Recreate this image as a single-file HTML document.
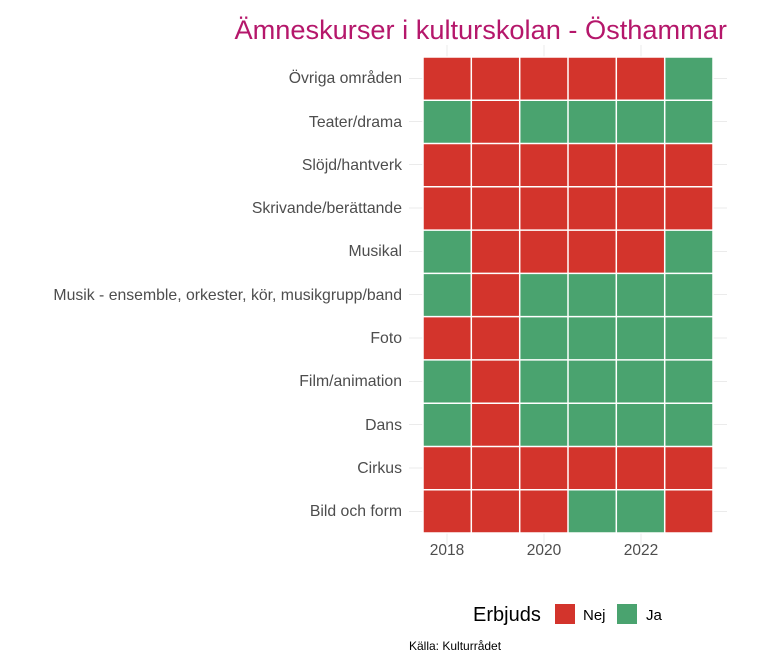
<!DOCTYPE html>
<html><head><meta charset="utf-8"><style>body{margin:0;background:#fff}svg{display:block}</style></head><body>
<svg width="768" height="672" xmlns="http://www.w3.org/2000/svg" font-family="Liberation Sans, sans-serif">
<rect width="768" height="672" fill="#fff"/>
<g stroke="#ebebeb" stroke-width="1">
<line x1="409" x2="727" y1="78.5" y2="78.5"/><line x1="409" x2="727" y1="121.5" y2="121.5"/><line x1="409" x2="727" y1="164.5" y2="164.5"/><line x1="409" x2="727" y1="208" y2="208"/><line x1="409" x2="727" y1="251.5" y2="251.5"/><line x1="409" x2="727" y1="294.5" y2="294.5"/><line x1="409" x2="727" y1="338" y2="338"/><line x1="409" x2="727" y1="381.5" y2="381.5"/><line x1="409" x2="727" y1="424.5" y2="424.5"/><line x1="409" x2="727" y1="468" y2="468"/><line x1="409" x2="727" y1="511.5" y2="511.5"/>
<line x1="447" x2="447" y1="45" y2="545"/><line x1="544" x2="544" y1="45" y2="545"/><line x1="641" x2="641" y1="45" y2="545"/>
</g>
<rect x="423" y="57" width="290" height="476" fill="#d3342c"/>
<g fill="#4aa36f">
<rect x="664.7" y="57" width="48.3" height="43.3"/>
<rect x="423" y="100.3" width="48.3" height="43.3"/>
<rect x="519.7" y="100.3" width="193.3" height="43.3"/>
<rect x="423" y="230.1" width="48.3" height="86.6"/>
<rect x="664.7" y="230.1" width="48.3" height="43.3"/>
<rect x="519.7" y="273.4" width="193.3" height="173.1"/>
<rect x="423" y="359.9" width="48.3" height="86.6"/>
<rect x="568" y="489.7" width="96.7" height="43.3"/>
</g>
<g stroke="#fff" stroke-width="1.5">
<line x1="471.3" x2="471.3" y1="57" y2="533"/><line x1="519.7" x2="519.7" y1="57" y2="533"/><line x1="568" x2="568" y1="57" y2="533"/><line x1="616.3" x2="616.3" y1="57" y2="533"/><line x1="664.7" x2="664.7" y1="57" y2="533"/>
<line x1="423" x2="713" y1="100.3" y2="100.3"/><line x1="423" x2="713" y1="143.5" y2="143.5"/><line x1="423" x2="713" y1="186.8" y2="186.8"/><line x1="423" x2="713" y1="230.1" y2="230.1"/><line x1="423" x2="713" y1="273.4" y2="273.4"/><line x1="423" x2="713" y1="316.6" y2="316.6"/><line x1="423" x2="713" y1="359.9" y2="359.9"/><line x1="423" x2="713" y1="403.2" y2="403.2"/><line x1="423" x2="713" y1="446.5" y2="446.5"/><line x1="423" x2="713" y1="489.7" y2="489.7"/>
<rect x="423" y="57" width="290" height="476" fill="none"/>
</g>
<g font-size="15.8" fill="#4d4d4d" text-anchor="end">
<text x="402" y="83">Övriga områden</text><text x="402" y="127">Teater/drama</text><text x="402" y="170">Slöjd/hantverk</text><text x="402" y="213">Skrivande/berättande</text><text x="402" y="256">Musikal</text><text x="402" y="300">Musik - ensemble, orkester, kör, musikgrupp/band</text><text x="402" y="343">Foto</text><text x="402" y="386">Film/animation</text><text x="402" y="430">Dans</text><text x="402" y="473">Cirkus</text><text x="402" y="516">Bild och form</text>
</g>
<g font-size="15.5" fill="#4d4d4d" text-anchor="middle"><text x="447" y="555">2018</text><text x="544" y="555">2020</text><text x="641" y="555">2022</text></g>
<text x="727" y="39" text-anchor="end" font-size="27.2" fill="#b5176b">Ämneskurser i kulturskolan - Östhammar</text>
<text x="473" y="621" font-size="20" fill="#000">Erbjuds</text>
<rect x="555" y="604" width="20" height="20" fill="#d3342c"/><text x="583" y="620" font-size="15">Nej</text>
<rect x="617" y="604" width="20" height="20" fill="#4aa36f"/><text x="646" y="620" font-size="15">Ja</text>
<text x="409" y="650" font-size="12" fill="#000">Källa: Kulturrådet</text>
</svg>
</body></html>
